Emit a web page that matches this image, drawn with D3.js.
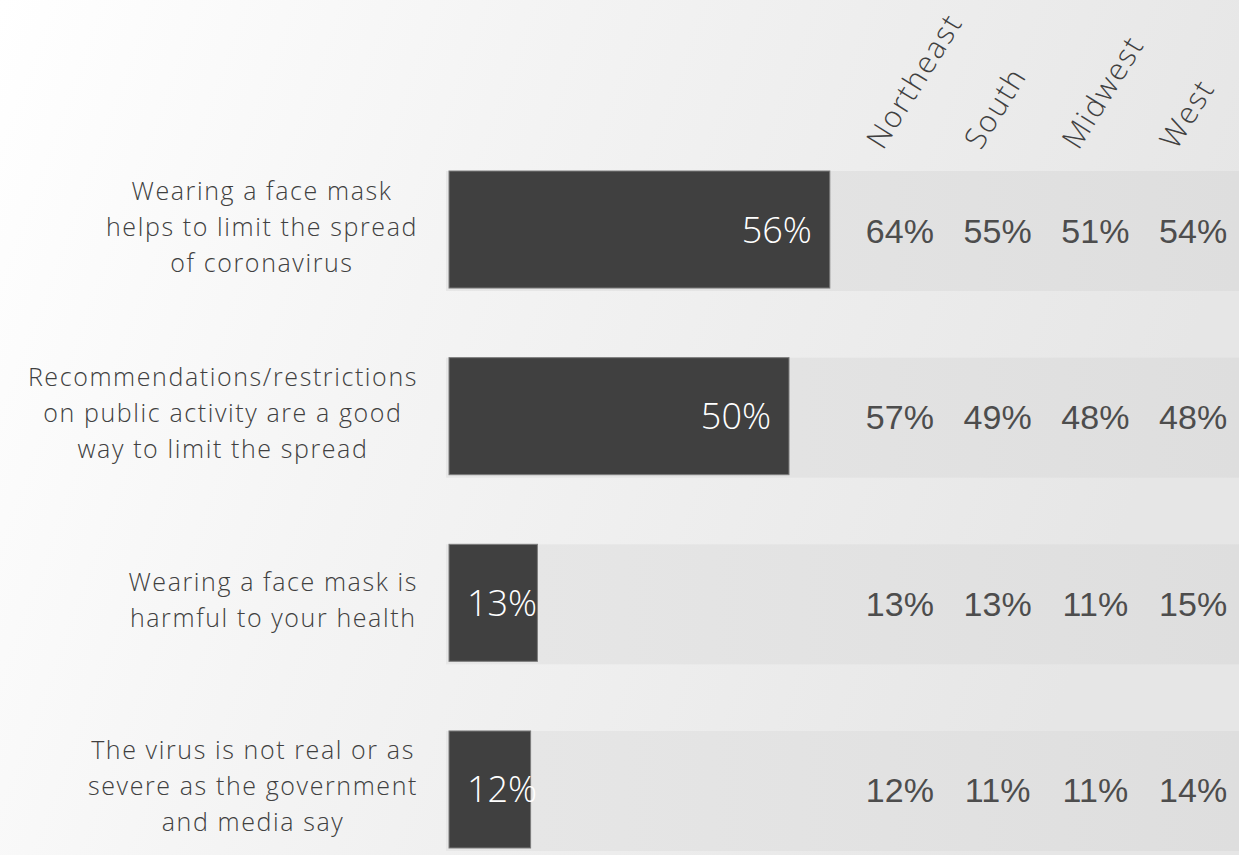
<!DOCTYPE html>
<html><head><meta charset="utf-8">
<script src="https://cdn.jsdelivr.net/npm/d3@7"></script>
<style>html,body{margin:0;padding:0;overflow:hidden;background:#fff}</style>
</head><body>
<svg id="chart" width="1239" height="855"></svg>
<script>
const statements = [
  ["Wearing a face mask", "helps to limit the spread", "of coronavirus"],
  ["Recommendations/restrictions", "on public activity are a good", "way to limit the spread"],
  ["Wearing a face mask is", "harmful to your health"],
  ["The virus is not real or as", "severe as the government", "and media say"]
];
const statementKeys = ["mask_helps", "restrictions", "mask_harmful", "not_real"];
const overall = [56, 50, 13, 12];
const regions = ["Northeast", "South", "Midwest", "West"];
const northeast = [64, 57, 13, 12];
const south = [55, 49, 13, 11];
const midwest = [51, 48, 11, 11];
const west = [54, 48, 15, 14];
const regionValues = [northeast, south, midwest, west];

const W = 1239, H = 855;
const svg = d3.select("#chart");
const defs = svg.append("defs");
const bg = defs.append("linearGradient").attr("id", "bg").attr("x1", "0").attr("y1", "0").attr("x2", "1").attr("y2", "0.25");
bg.append("stop").attr("offset", "0%").attr("stop-color", "#ffffff");
bg.append("stop").attr("offset", "40%").attr("stop-color", "#f4f4f4");
bg.append("stop").attr("offset", "100%").attr("stop-color", "#e6e6e6");
const tr = defs.append("linearGradient").attr("id", "track").attr("x1", "0").attr("y1", "0").attr("x2", "1").attr("y2", "0");
tr.append("stop").attr("offset", "0%").attr("stop-color", "#e7e7e7");
tr.append("stop").attr("offset", "100%").attr("stop-color", "#dedede");

svg.append("rect").attr("width", W).attr("height", H).attr("fill", "url(#bg)");

const x = d3.scaleLinear().domain([0, 100]).range([449, 449 + 680]);
const y = d3.scaleBand().domain(statementKeys).range([171, 848]).paddingInner(0.373).paddingOuter(0);
const col = d3.scaleBand().domain(regions).range([851, 1242]).padding(0);

// tracks
svg.append("g").selectAll("rect").data(statementKeys).join("rect")
  .attr("x", x(0) - 3).attr("y", d => y(d))
  .attr("width", W - (x(0) - 3)).attr("height", y.bandwidth() + 3)
  .attr("fill", "url(#track)");

// dark bars
svg.append("g").selectAll("rect").data(overall).join("rect")
  .attr("x", x(0)).attr("y", (d, i) => y(statementKeys[i]))
  .attr("width", d => x(d) - x(0)).attr("height", y.bandwidth())
  .attr("fill", "#404040").attr("stroke", "#7c7c7c").attr("stroke-width", 1);

// overall labels
svg.append("g").selectAll("text").data(overall).join("text")
  .attr("x", d => (x(d) - x(0) > 150) ? x(d) - 18 : x(0) + 18)
  .attr("text-anchor", d => (x(d) - x(0) > 150) ? "end" : "start")
  .attr("y", (d, i) => y(statementKeys[i]) + y.bandwidth() / 2 + 13)
  .attr("font-family", "'Open Sans', sans-serif").attr("font-weight", 300)
  .attr("font-size", 36).attr("fill", "#ffffff")
  .text(d => d + "%");

// region values
regions.forEach((r, ri) => {
  svg.append("g").selectAll("text").data(regionValues[ri]).join("text")
    .attr("x", col(r) + col.bandwidth() / 2)
    .attr("y", (d, i) => y(statementKeys[i]) + y.bandwidth() / 2 + 13)
    .attr("text-anchor", "middle")
    .attr("font-family", "'Liberation Sans', Arial, sans-serif")
    .attr("font-size", 34).attr("fill", "#4d4d4d")
    .text(d => d + "%");
});

// region headers
svg.append("g").selectAll("text").data(regions).join("text")
  .attr("transform", d => `translate(${col(d) + col.bandwidth() / 2 - 17},151) rotate(-58)`)
  .attr("font-family", "'Open Sans', sans-serif").attr("font-weight", 300)
  .attr("font-size", 30).attr("letter-spacing", 1.9).attr("fill", "#404040")
  .text(d => d);

// statement labels
const lab = svg.append("g");
statements.forEach((lines, i) => {
  const cy = y(statementKeys[i]) + y.bandwidth() / 2;
  const g = lab.append("g");
  const t = g.selectAll("text").data(lines).join("text")
    .attr("y", (d, j) => cy + (j - (lines.length - 1) / 2) * 36 + 6)
    .attr("text-anchor", "middle")
    .attr("font-family", "'Open Sans', sans-serif").attr("font-weight", 300)
    .attr("font-size", 25).attr("letter-spacing", 1.6).attr("fill", "#404040")
    .text(d => d);
  let maxW = 0;
  t.each(function () { maxW = Math.max(maxW, this.getComputedTextLength()); });
  t.attr("x", 418 - maxW / 2);
});
</script>
</body></html>
